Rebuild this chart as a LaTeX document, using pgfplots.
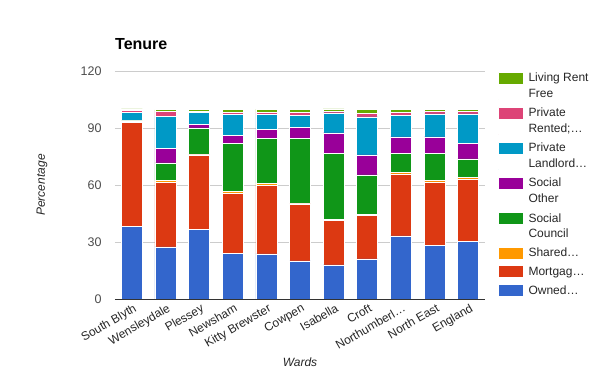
\documentclass[border=0pt]{standalone}
\usepackage{pgfplots}
\pgfplotsset{compat=1.18}
\usepackage{pgfplotstable}
\usepackage{fontspec}
\setmainfont{Liberation Sans}

\definecolor{cOwned}{HTML}{3366CC}
\definecolor{cMort}{HTML}{DC3912}
\definecolor{cShared}{HTML}{FF9900}
\definecolor{cCouncil}{HTML}{109618}
\definecolor{cOther}{HTML}{990099}
\definecolor{cLandlord}{HTML}{0099C6}
\definecolor{cRented}{HTML}{DD4477}
\definecolor{cFree}{HTML}{66AA00}

\pgfplotstableread{
x Owned Mortgage Shared Council Other Landlord Rented Free
0 38.4 54.4 0.5 0.4 0.3 4.3 0.8 0.9
1 27.4 34.0 0.8 9.4 7.7 16.8 2.5 1.0
2 36.8 39.0 0.4 13.8 2.1 6.1 0.7 1.0
3 24.2 31.4 0.9 25.6 4.2 10.9 1.2 1.5
4 23.7 36.1 0.9 23.8 4.8 7.9 1.2 1.5
5 20.0 30.0 0.5 34.0 5.8 6.3 1.8 1.4
6 17.9 23.5 0.5 34.9 10.6 10.5 1.0 1.1
7 21.1 23.1 0.4 20.7 10.5 20.0 1.9 1.9
8 33.2 32.6 0.8 10.2 8.5 11.5 1.4 1.6
9 28.4 33.2 0.7 14.5 8.5 12.1 1.3 1.1
10 30.5 32.7 1.0 9.5 8.4 15.3 1.2 1.2
}\data

\pgfplotsset{
  oneline/.style={legend image code/.code={\fill[##1,draw=none] (0pt,-5.5pt) rectangle (24pt,5.5pt);}},
  twoline/.style={legend image code/.code={\path (0pt,-13.35pt) -- (0pt,13.35pt);\fill[##1,draw=none] (0pt,2.35pt) rectangle (24pt,13.35pt);}},
}

\begin{document}
\begin{tikzpicture}[x=1pt,y=1pt]
\path[use as bounding box] (0,0) rectangle (600,371);
\node[anchor=base west, font=\fontsize{16}{19}\selectfont\bfseries, inner sep=0] at (115,321) {Tenure};
\begin{axis}[
  at={(115pt,72pt)}, anchor=south west,
  width=370pt, height=228pt, scale only axis,
  ybar stacked, bar width=21pt,
  xmin=-0.5, xmax=10.5, ymin=0, ymax=120,
  ytick={0,30,60,90,120},
  xtick={0,...,10},
  xticklabels={South Blyth,Wensleydale,Plessey,Newsham,Kitty Brewster,Cowpen,Isabella,Croft,Northumberl…,North East,England},
  xticklabel style={rotate=30, anchor=north east, font=\fontsize{12}{14}\selectfont, text=black!85, inner sep=1pt, yshift=-3pt},
  yticklabel style={font=\fontsize{12.5}{14}\selectfont, text=black!70, xshift=-10pt},
  /pgf/number format/assume math mode=true,
  major tick length=0pt,
  ymajorgrids, grid style={draw=black!20, line width=0.7pt},
  axis lines*=left,
  x axis line style={draw=black!80, line width=0.9pt, -},
  y axis line style={draw=none},
  xlabel={\itshape Wards}, ylabel={\itshape Percentage},
  label style={font=\fontsize{12}{14}\selectfont, text=black!85},
  x label style={at={(axis description cs:0.5,-0.276)}, anchor=center},
  y label style={at={(axis description cs:-0.197,0.5)}, anchor=center},
  reverse legend,
  legend style={at={(1,1)}, anchor=north west, xshift=13pt, yshift=-1pt, draw=none, fill=none, inner sep=0pt,
    row sep=7.7pt, column sep=6pt,
    nodes={align=left, inner sep=0pt, font=\fontsize{12}{15.7}\selectfont, text=black!85}},
  legend cell align=left,
]
\addplot[fill=cOwned, draw=white, line width=0.7pt, oneline] table[x=x,y=Owned]{\data};
\addlegendentry{Owned…}
\addplot[fill=cMort, draw=white, line width=0.7pt, oneline] table[x=x,y=Mortgage]{\data};
\addlegendentry{Mortgag…}
\addplot[fill=cShared, draw=white, line width=0.7pt, oneline] table[x=x,y=Shared]{\data};
\addlegendentry{Shared…}
\addplot[fill=cCouncil, draw=white, line width=0.7pt, twoline] table[x=x,y=Council]{\data};
\addlegendentry{Social\\Council}
\addplot[fill=cOther, draw=white, line width=0.7pt, twoline] table[x=x,y=Other]{\data};
\addlegendentry{Social\\Other}
\addplot[fill=cLandlord, draw=white, line width=0.7pt, twoline] table[x=x,y=Landlord]{\data};
\addlegendentry{Private\\Landlord…}
\addplot[fill=cRented, draw=white, line width=0.7pt, twoline] table[x=x,y=Rented]{\data};
\addlegendentry{Private\\Rented;…}
\addplot[fill=cFree, draw=white, line width=0.7pt, twoline] table[x=x,y=Free]{\data};
\addlegendentry{Living Rent\\Free}
\end{axis}
\end{tikzpicture}
\end{document}
